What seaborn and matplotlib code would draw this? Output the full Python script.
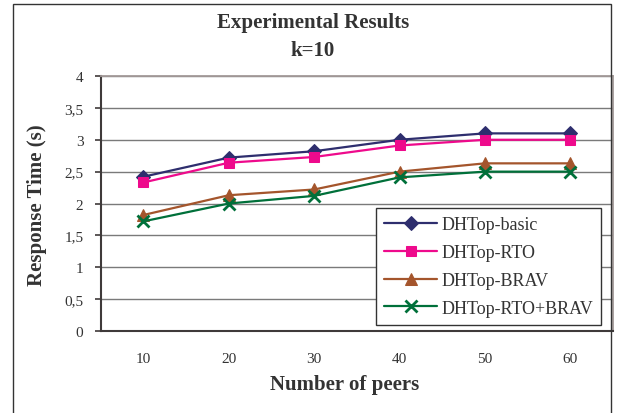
import numpy as np
import pandas as pd
import seaborn as sns
import matplotlib.pyplot as plt
from matplotlib.patches import Rectangle
from matplotlib.ticker import FixedLocator, FuncFormatter

# data
peers = ["10", "20", "30", "40", "50", "60"]
basic = [2.42, 2.72, 2.82, 3.0, 3.1, 3.1]
rto = [2.33, 2.64, 2.73, 2.91, 3.0, 3.0]
brav = [1.82, 2.13, 2.22, 2.5, 2.63, 2.63]
rto_brav = [1.72, 2.0, 2.12, 2.41, 2.5, 2.5]
series_names = ["DHTop-basic", "DHTop-RTO", "DHTop-BRAV", "DHTop-RTO+BRAV"]
y_ticks = [0, 0.5, 1, 1.5, 2, 2.5, 3, 3.5, 4]


def main():
    sns.set_style("white")
    plt.rcParams['font.family'] = ['Liberation Serif', 'DejaVu Serif']

    fig = plt.figure(figsize=(6.24, 4.14), dpi=100)
    ax = fig.add_axes([0.1614, 0.198, 0.8210, 0.616])

    styles = [
        dict(color="#2e2e6e", marker="D", markersize=7.5),
        dict(color="#ee0a8c", marker="s", markersize=7.5),
        dict(color="#a4552c", marker="^", markersize=9),
        dict(color="#00703a", marker="x", markersize=9, markeredgewidth=2),
    ]
    for name, vals, st in zip(series_names, [basic, rto, brav, rto_brav], styles):
        df = pd.DataFrame({"peers": peers, "time": vals})
        sns.lineplot(data=df, x="peers", y="time", ax=ax, label=name,
                     linewidth=1.6, markeredgecolor=st["color"], **st)

    ax.set_xlim(-0.5, 5.5)
    ax.set_ylim(0, 4)
    ax.set_yticks(y_ticks)
    ax.yaxis.set_major_formatter(FuncFormatter(lambda v, p: f"{v:g}".replace(".", ",")))
    ax.xaxis.set_minor_locator(FixedLocator(np.arange(-0.5, 6, 1)))
    ax.tick_params(axis="x", which="major", length=0, pad=15, labelsize=11, labelcolor="#333333")
    ax.tick_params(axis="x", which="minor", length=5, width=1.2, color="#3f3a3a", direction="out")
    ax.tick_params(axis="y", length=4.5, width=1.2, color="#3f3a3a", direction="out",
                   pad=8, labelsize=11, labelcolor="#333333", left=True)

    ax.grid(axis="y", color="#7a7a7a", linewidth=1)
    ax.set_axisbelow(True)
    for side in ["left", "bottom"]:
        ax.spines[side].set_color("#3f3a3a")
        ax.spines[side].set_linewidth(1.5)
    for side in ["top", "right"]:
        ax.spines[side].set_color("#a39a98")
        ax.spines[side].set_linewidth(1.3)

    ax.set_xlabel("")
    ax.set_ylabel("")
    leg = ax.legend(loc="lower right", bbox_to_anchor=(0.977, 0.024), frameon=True,
                    fancybox=False, framealpha=1, edgecolor="#333333",
                    fontsize=13, handlelength=2.9, labelspacing=0.6,
                    borderpad=0.45, handletextpad=0.25, borderaxespad=0)
    leg.get_frame().set_linewidth(1)
    for t in leg.get_texts():
        t.set_color("#333333")

    fig.text(313 / 624, 1 - 37 / 414, "Experimental Results\nk=10", ha="center", va="center",
             fontsize=15, fontweight="bold", color="#333333", linespacing=1.5)
    fig.text(37 / 624, 1 - 205 / 414, "Response Time (s)", ha="center", va="center",
             rotation=90, fontsize=15, fontweight="bold", color="#333333")
    fig.text(345 / 624, 1 - 385 / 414, "Number of peers", ha="center", va="center",
             fontsize=15, fontweight="bold", color="#333333")

    fig.patches.append(Rectangle((13 / 624, -0.05), (611 - 13) / 624, 1.05 - 5 / 414,
                                 transform=fig.transFigure, fill=False,
                                 edgecolor="#333333", linewidth=1))

    fig.savefig("out.png", dpi=100)


if __name__ == "__main__":
    main()
